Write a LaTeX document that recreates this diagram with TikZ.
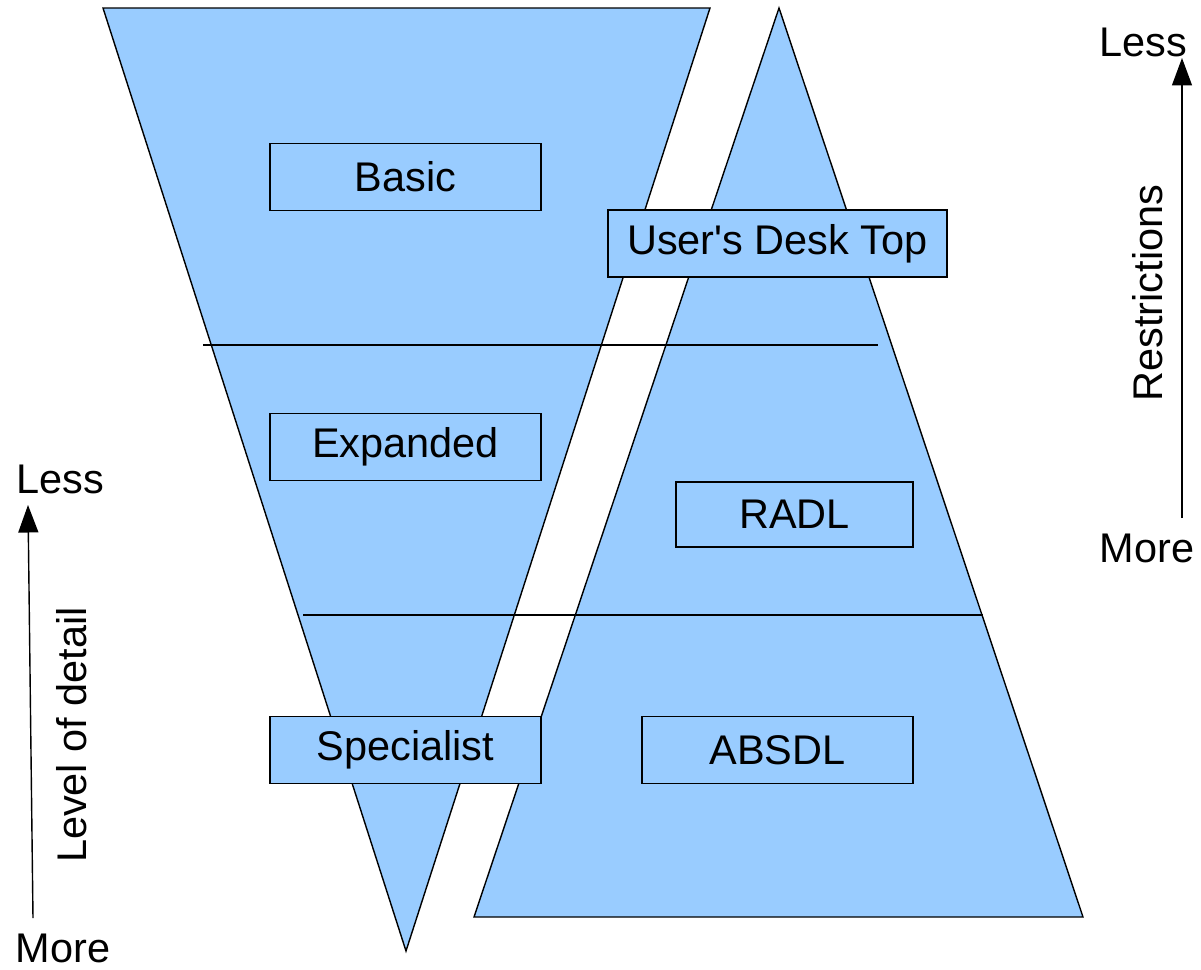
\documentclass[tikz,border=0pt]{standalone}
\usepackage{fontspec}
\setmainfont{Liberation Sans}
\usetikzlibrary{arrows.meta}

\begin{document}
\begin{tikzpicture}[
      x=0.02cm, y=-0.02cm,
      font=\fontsize{23.6}{28}\selectfont,
      layer/.style={fill=paleblue,draw=black,line width=0.8pt},
      box/.style={rectangle,draw,fill=paleblue,line width=0.8pt,inner sep=0pt,minimum height=1.34cm},
      divider/.style={line width=0.8pt},
      axis/.style={line width=0.8pt,-{Triangle[length=0.55cm,width=0.4cm]}},
      tag/.style={inner sep=0pt}
    ]
    \definecolor{paleblue}{HTML}{99CCFF}
    \useasboundingbox (0,0) rectangle (1201,970);

    % the two triangles
    \filldraw[layer] (103,8) -- (710,8) -- (406,951) -- cycle;
    \filldraw[layer] (779,8) -- (1083,917) -- (474,917) -- cycle;

    % level dividers
    \coordinate (d1a) at (203,345);
    \coordinate (d1b) at (878,345);
    \coordinate (d2a) at (303,615);
    \coordinate (d2b) at (983,615);
    \draw[divider] (d1a) -- (d1b);
    \draw[divider] (d2a) -- (d2b);

    % boxes
    \node[box,minimum width=5.42cm] (basic) at (405.5,177) {Basic};
    \node[box,minimum width=6.78cm] (desk) at (777.5,243.5) {User\textquotesingle s Desk Top};
    \node[box,minimum width=5.42cm] (expanded) at (405.5,447) {Expanded};
    \node[box,minimum width=4.74cm,minimum height=1.3cm] (radl) at (794.5,514.5) {RADL};
    \node[box,minimum width=5.42cm] (specialist) at (405.5,750) {Specialist};
    \node[box,minimum width=5.42cm] (absdl) at (777.5,750) {ABSDL};

    % level of detail axis
    \node[tag] (lessL) at (60,479) {Less};
    \node[tag] (moreL) at (63,948) {More};
    \coordinate (detailFrom) at (33,918);
    \coordinate (detailTo) at (28,505);
    \draw[axis] (detailFrom) -- (detailTo);
    \node[tag,rotate=90] (detail) at (72,735) {Level of detail};

    % restrictions axis
    \node[tag] (lessR) at (1143,42) {Less};
    \node[tag] (moreR) at (1147,548) {More};
    \coordinate (restrFrom) at (1182,518);
    \coordinate (restrTo) at (1182,58);
    \draw[axis] (restrFrom) -- (restrTo);
    \node[tag,rotate=90] (restr) at (1148,293) {Restrictions};
  \end{tikzpicture}
\end{document}
